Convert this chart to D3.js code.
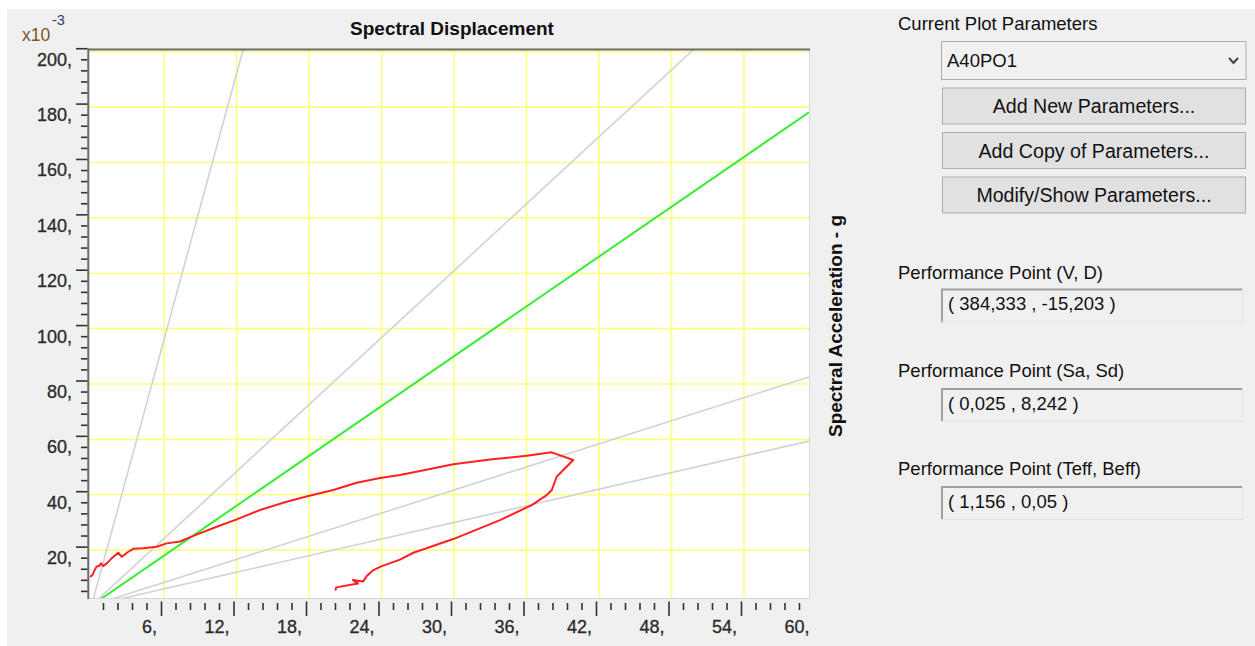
<!DOCTYPE html>
<html><head><meta charset="utf-8">
<script src="https://cdn.jsdelivr.net/npm/d3@7"></script>
<style>
html,body{margin:0;padding:0;background:#fff;}
svg text{font-family:"Liberation Sans",Arial,sans-serif;}
</style></head>
<body>
<svg id="c" width="1255" height="646"></svg>
<script>
// ---- data ----
const xGridValues = [6, 12, 18, 24, 30, 36, 42, 48, 54];
const xLabelValues = [6, 12, 18, 24, 30, 36, 42, 48, 54, 60];
const xLabels = ["6,", "12,", "18,", "24,", "30,", "36,", "42,", "48,", "54,", "60,"];
const yGridValues = [20, 40, 60, 80, 100, 120, 140, 160, 180, 200];
const yLabels = ["20,", "40,", "60,", "80,", "100,", "120,", "140,", "160,", "180,", "200,"];
// capacity curve (Sd, Sa x10^-3)
const capSd = [-0.12, 0.07, 0.29, 0.43, 0.62, 0.79, 0.98, 1.26, 1.67, 2.22, 2.50, 3.05, 3.46, 4.26, 5.40, 6.22, 7.32, 8.48, 10.36, 12.02, 13.95, 16.15, 17.94, 20.01, 21.95, 23.88, 25.53, 27.19, 29.94, 32.98, 36.02, 38.09, 39.87, 39.05, 38.50, 38.09, 37.67, 36.43, 33.81, 29.94, 26.64, 25.53, 24.02, 23.33, 22.78, 22.47, 21.64, 22.06, 20.24, 20.19];
const capSa = [10.26, 10.98, 13.04, 14.05, 14.23, 15.21, 14.23, 15.21, 17.02, 19.04, 17.59, 19.40, 20.48, 20.63, 21.21, 22.43, 23.09, 25.25, 28.43, 31.11, 34.47, 37.46, 39.52, 41.69, 44.33, 46.03, 47.11, 48.55, 50.98, 52.71, 54.08, 55.31, 52.53, 48.92, 46.50, 41.69, 39.88, 36.27, 30.85, 23.99, 19.04, 16.58, 14.23, 12.79, 10.62, 8.63, 9.18, 7.91, 6.54, 5.38];
// radial period lines (Sa / Sd slope) and demand line
const periodSlopes = [16, 4.03, 1.39, 1.0];
const demandSlope = 3.0;
const panelLabels = ["Performance Point (V, D)", "Performance Point (Sa, Sd)", "Performance Point (Teff, Beff)"];
const panelValues = ["( 384,333 , -15,203 )", "( 0,025 , 8,242 )", "( 1,156 , 0,05 )"];
const buttonLabels = ["Add New Parameters...", "Add Copy of Parameters...", "Modify/Show Parameters..."];

// ---- layout ----
const svg = d3.select("#c");
const L = 89, R = 809, T = 49.5, B = 598;
const x = d3.scaleLinear().domain([-0.207, 59.38]).range([L, R]);
const y = d3.scaleLinear().domain([2.7, 200.8]).range([B, T]);

// panel background
svg.append("rect").attr("x", 7).attr("y", 9).attr("width", 1248).attr("height", 637).attr("fill", "#f0f0f0");

// plot area
svg.append("rect").attr("x", L).attr("y", T).attr("width", R - L).attr("height", B - T).attr("fill", "#fff");

svg.append("defs").append("clipPath").attr("id", "clip")
  .append("rect").attr("x", L).attr("y", T).attr("width", R - L).attr("height", B - T);

const grid = svg.append("g");
grid.selectAll("line.gx").data(xGridValues).join("line")
  .attr("x1", d => x(d)).attr("x2", d => x(d)).attr("y1", T).attr("y2", B)
  .attr("stroke", "#ffff80").attr("stroke-width", 1.6);
grid.selectAll("line.gy").data(yGridValues).join("line")
  .attr("class", "gy")
  .attr("x1", L).attr("x2", R).attr("y1", d => y(d)).attr("y2", d => y(d))
  .attr("stroke", "#ffff80").attr("stroke-width", 1.6);

const plot = svg.append("g").attr("clip-path", "url(#clip)");
const xd = x.domain();
const line = d3.line().x(d => x(d[0])).y(d => y(d[1]));
periodSlopes.forEach(s => {
  plot.append("path").attr("d", line([[0, 0], [xd[1], s * xd[1]]]))
    .attr("fill", "none").attr("stroke", "#d2d2d2").attr("stroke-width", 1.6);
});
plot.append("path").attr("d", line([[0, 0], [xd[1], demandSlope * xd[1]]]))
  .attr("fill", "none").attr("stroke", "#33ee33").attr("stroke-width", 2);
plot.append("path").attr("d", line(capSd.map((d, i) => [d, capSa[i]])))
  .attr("fill", "none").attr("stroke", "#ff2020").attr("stroke-width", 2).attr("stroke-linejoin", "round");

// plot frame
svg.append("line").attr("x1", R + 0.5).attr("x2", R + 0.5).attr("y1", T).attr("y2", B + 1).attr("stroke", "#d8d8d8");
svg.append("line").attr("x1", L).attr("x2", R + 1).attr("y1", B + 0.5).attr("y2", B + 0.5).attr("stroke", "#d8d8d8");
svg.append("line").attr("x1", L - 1).attr("x2", R + 1).attr("y1", T).attr("y2", T).attr("stroke", "#6a6a6a").attr("stroke-width", 2);
svg.append("line").attr("x1", L - 0.7).attr("x2", L - 0.7).attr("y1", T - 1).attr("y2", B + 1).attr("stroke", "#6a6a6a").attr("stroke-width", 2);

// axes (ticks)
const xMinor = d3.range(1.2, 59.3, 1.2).filter(v => Math.abs(v / 6 - Math.round(v / 6)) > 0.01);
const yMinor = d3.range(4, 200, 4).filter(v => v % 20 !== 0);
function styleAxis(g) {
  g.select(".domain").remove();
  g.selectAll(".tick line").attr("stroke", "#333").attr("stroke-width", 1.6);
  g.selectAll(".tick text").remove();
}
svg.append("g").attr("transform", "translate(-3," + 603 + ")")
  .call(d3.axisBottom(x).tickValues(xMinor).tickSize(7).tickFormat("")).call(styleAxis);
svg.append("g").attr("transform", "translate(-3," + 601.5 + ")")
  .call(d3.axisBottom(x).tickValues(xGridValues).tickSize(14.5).tickFormat("")).call(styleAxis);
svg.append("g").attr("transform", "translate(87.5,-3.5)")
  .call(d3.axisLeft(y).tickValues(yMinor).tickSize(6.5).tickFormat("")).call(styleAxis);
svg.append("g").attr("transform", "translate(87.5,-3.5)")
  .call(d3.axisLeft(y).tickValues(yGridValues).tickSize(11.5).tickFormat("")).call(styleAxis);

// tick labels
svg.append("g").selectAll("text").data(xLabelValues).join("text")
  .attr("x", d => x(d) - 7).attr("y", 633).attr("text-anchor", "end")
  .attr("font-size", 18).attr("fill", "#2a2a2a").attr("stroke", "#2a2a2a").attr("stroke-width", 0.3)
  .text((d, i) => xLabels[i]);
svg.append("g").selectAll("text").data(yGridValues).join("text")
  .attr("x", 72).attr("y", d => y(d) + 14).attr("text-anchor", "end")
  .attr("font-size", 18).attr("fill", "#2a2a2a").attr("stroke", "#2a2a2a").attr("stroke-width", 0.3)
  .text((d, i) => yLabels[i]);

// titles
svg.append("text").attr("x", 452).attr("y", 35).attr("text-anchor", "middle")
  .attr("font-size", 19).attr("font-weight", "bold").attr("fill", "#111").text("Spectral Displacement");
svg.append("text").attr("transform", "translate(842,326) rotate(-90)").attr("text-anchor", "middle")
  .attr("font-size", 19).attr("font-weight", "bold").attr("fill", "#111").text("Spectral Acceleration - g");
svg.append("text").attr("x", 22).attr("y", 41).attr("font-size", 17.5).attr("fill", "#7a5528").text("x10");
svg.append("text").attr("x", 52).attr("y", 25).attr("font-size", 14.5).attr("fill", "#2a3f7a").text("-3");

// right panel
const fs = 18.5;
svg.append("text").attr("x", 898).attr("y", 30).attr("font-size", fs).attr("fill", "#111").text("Current Plot Parameters");
svg.append("rect").attr("x", 941.5).attr("y", 41.5).attr("width", 1246 - 941.5).attr("height", 38)
  .attr("fill", "#f0f0f0").attr("stroke", "#acacac");
svg.append("text").attr("x", 947).attr("y", 67).attr("font-size", fs).attr("fill", "#111").text("A40PO1");
svg.append("path").attr("d", "M1229,58 L1233.5,63 L1238,58").attr("fill", "none").attr("stroke", "#444").attr("stroke-width", 2);

const btnY = [88, 132.5, 177];
buttonLabels.forEach((t, i) => {
  svg.append("rect").attr("x", 942.5).attr("y", btnY[i]).attr("width", 303).attr("height", 36)
    .attr("fill", "#e1e1e1").attr("stroke", "#adadad");
  svg.append("text").attr("x", 1094).attr("y", btnY[i] + 25).attr("text-anchor", "middle")
    .attr("font-size", 19.6).attr("fill", "#111").text(t);
});

const ppLabelY = [279, 377, 475];
const ppBoxY = [288.5, 388, 486];
panelLabels.forEach((t, i) => {
  svg.append("text").attr("x", 898).attr("y", ppLabelY[i]).attr("font-size", fs).attr("fill", "#111").text(t);
  const by = ppBoxY[i], bx = 941, bw = 302, bh = 34;
  svg.append("rect").attr("x", bx).attr("y", by).attr("width", bw).attr("height", bh).attr("fill", "#f0f0f0");
  svg.append("path").attr("d", `M${bx + 1},${by + bh} L${bx + 1},${by + 1} L${bx + bw},${by + 1}`)
    .attr("fill", "none").attr("stroke", "#a0a0a0").attr("stroke-width", 2);
  svg.append("path").attr("d", `M${bx},${by + bh - 0.5} L${bx + bw - 0.5},${by + bh - 0.5} L${bx + bw - 0.5},${by}`)
    .attr("fill", "none").attr("stroke", "#e3e3e3").attr("stroke-width", 1);
  svg.append("text").attr("x", 948).attr("y", by + 21.5).attr("font-size", fs).attr("fill", "#111").text(panelValues[i]);
});
</script>
</body></html>
